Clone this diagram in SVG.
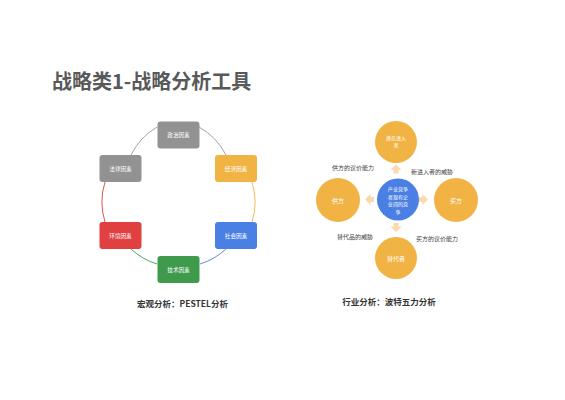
<svg xmlns="http://www.w3.org/2000/svg" width="565" height="400" viewBox="0 0 565 400">
<style>
text{font-family:"Noto Sans CJK SC","Liberation Sans",sans-serif;}
.title{font-size:20px;font-weight:bold;fill:#595959;}
.cap{font-size:8.5px;font-weight:bold;fill:#333;text-anchor:middle;}
.nt{font-size:5.6px;fill:#fff;text-anchor:middle;dominant-baseline:central;}
.ct{font-size:6px;fill:#fff;text-anchor:middle;dominant-baseline:central;}
.cs{font-size:5.1px;fill:#fff;text-anchor:middle;dominant-baseline:central;}
.lb{font-size:6px;fill:#444;text-anchor:middle;dominant-baseline:central;}
.arc{fill:none;stroke-width:0.9;}
.org{fill:#f1b444;}
.arr{fill:#f9d9ad;}
</style>
<rect width="565" height="400" fill="#fff"/>
<text class="title" x="52" y="89">战略类1-战略分析工具</text>

<g id="pestel-connectors">
<path class="arc" stroke="#9a9a9a" d="M199,127 A67,67 0 0 1 226,155"/>
<path class="arc" stroke="#f1b444" d="M252,182 A67,67 0 0 1 252,222"/>
<path class="arc" stroke="#4a7fe3" d="M226,249 A67,67 0 0 1 200,264"/>
<path class="arc" stroke="#3f9a4c" d="M157,264 A67,67 0 0 1 131,249"/>
<path class="arc" stroke="#e04040" d="M105,222 A67,67 0 0 1 105,182"/>
<path class="arc" stroke="#9a9a9a" d="M131,155 A67,67 0 0 1 157,127"/>
</g>
<g id="n-zhengzhi"><rect x="157.5" y="121.5" width="42" height="27" rx="3" fill="#929292"/><text class="nt" x="178.5" y="135">政治因素</text></g>
<g id="n-jingji"><rect x="215" y="155" width="42" height="27" rx="3" fill="#f1b444"/><text class="nt" x="236" y="168.5">经济因素</text></g>
<g id="n-shehui"><rect x="215" y="222" width="42" height="27" rx="3" fill="#4a7fe3"/><text class="nt" x="236" y="235.5">社会因素</text></g>
<g id="n-jishu"><rect x="157.5" y="256" width="42" height="27" rx="3" fill="#3f9a4c"/><text class="nt" x="178.5" y="269.5">技术因素</text></g>
<g id="n-huanjing"><rect x="99.5" y="222" width="42" height="27" rx="3" fill="#e04040"/><text class="nt" x="120.5" y="235.5">环境因素</text></g>
<g id="n-falv"><rect x="99.5" y="155" width="42" height="27" rx="3" fill="#929292"/><text class="nt" x="120.5" y="168.5">法律因素</text></g>
<text class="cap" x="182.5" y="307">宏观分析：PESTEL分析</text>

<g id="porter-connectors">
<polygon class="arr" points="396,164.5 401.5,170 398.5,170 398.5,173.5 393.5,173.5 393.5,170 390.5,170"/>
<polygon class="arr" points="396,232 401.5,226.5 398.5,226.5 398.5,223 393.5,223 393.5,226.5 390.5,226.5"/>
<polygon class="arr" points="365,199.5 370.5,194 370.5,197 374,197 374,202 370.5,202 370.5,205"/>
<polygon class="arr" points="428,199.5 422.5,194 422.5,197 419,197 419,202 422.5,202 422.5,205"/>
<text class="lb" x="353" y="167.5">供方的议价能力</text>
<text class="lb" x="432" y="171">新进入者的威胁</text>
<text class="lb" x="355" y="236">替代品的威胁</text>
<text class="lb" x="437" y="238">买方的议价能力</text>
</g>
<g id="p-center"><circle cx="398" cy="199.5" r="21" fill="#4a7fe3"/>
<text class="cs" x="398" y="188.5">产业竞争</text><text class="cs" x="398" y="196">者现有企</text><text class="cs" x="398" y="203.5">业间的竞</text><text class="cs" x="398" y="211">争</text></g>
<g id="p-top"><circle class="org" cx="396" cy="142" r="21"/><text class="cs" x="396" y="137">潜在进入</text><text class="cs" x="396" y="144.5">者</text></g>
<g id="p-left"><circle class="org" cx="338" cy="200" r="22"/><text class="ct" x="338" y="200">供方</text></g>
<g id="p-right"><circle class="org" cx="456" cy="200" r="22"/><text class="ct" x="456" y="200">买方</text></g>
<g id="p-bottom"><circle class="org" cx="396" cy="258" r="21"/><text class="ct" x="396" y="258">替代者</text></g>
<text class="cap" x="389" y="305">行业分析：波特五力分析</text>
</svg>
